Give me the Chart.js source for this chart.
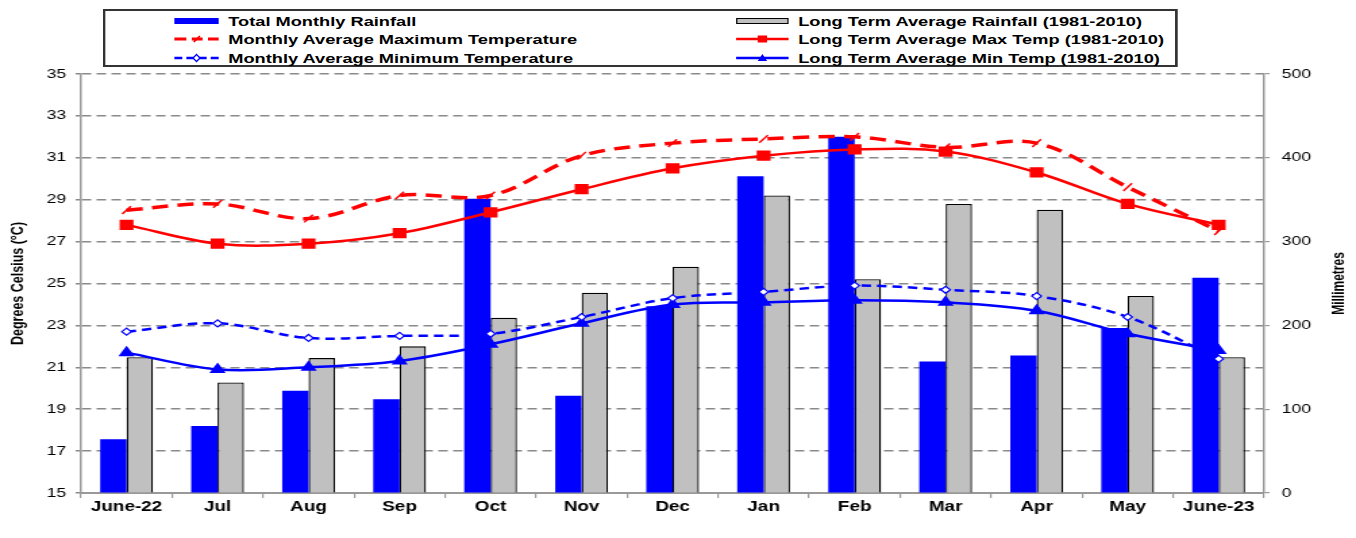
<!DOCTYPE html>
<html>
<head>
<meta charset="utf-8">
<script src="https://cdn.jsdelivr.net/npm/chart.js@4"></script>
<style>
  body { margin: 0; background: #fff; font-family: "Liberation Sans", Arial, sans-serif; overflow: hidden; }
  /* the original picture is stretched sideways, so the whole chart is drawn narrow and widened */
  #wrap { position: relative; width: 1004px; height: 538px; transform: scaleX(1.3506); transform-origin: 0 0; }
  #climateChart { width: 1004px; height: 538px; display: block; }
  #legend { position: absolute; left: 76px; top: 9px; width: 796px; height: 58px;
            border: 2px solid #333; box-sizing: border-box; background: #fff; }
  .item { position: absolute; height: 16px; display: flex; align-items: center;
          font-weight: bold; font-size: 13.5px; color: #000; white-space: nowrap; }
  .item svg { margin-right: 7px; }
</style>
</head>
<body>
<div id="wrap">
  <canvas id="climateChart" width="1004" height="538" style="width:1004px;height:538px"></canvas>
  <div id="legend">
    <div class="item" style="left:51px;top:2px">
      <svg width="33" height="10"><rect x="0" y="2" width="33" height="6" fill="#0000ff"/></svg>Total Monthly Rainfall</div>
    <div class="item" style="left:51px;top:20px">
      <svg width="33" height="10"><path d="M0 5 H9 M13 5 H21 M25 5 H33" stroke="#ff0000" stroke-width="3"/><path d="M14.5 8 L19 2" stroke="#ff0000" stroke-width="1.3"/></svg>Monthly Average Maximum Temperature</div>
    <div class="item" style="left:51px;top:39px">
      <svg width="33" height="10"><path d="M0 5 H6 M9 5 H24 M27 5 H33" stroke="#0000ff" stroke-width="2.5"/><path d="M14 5 L16.5 1.5 L19 5 L16.5 8.5 Z" fill="#fff" stroke="#0000ff" stroke-width="1.2"/></svg>Monthly Average Minimum Temperature</div>
    <div class="item" style="left:467px;top:2px">
      <svg width="39" height="10"><rect x="0.5" y="2.5" width="38" height="5" fill="#c0c0c0" stroke="#000" stroke-width="1"/></svg>Long Term Average Rainfall (1981-2010)</div>
    <div class="item" style="left:467px;top:20px">
      <svg width="39" height="10"><path d="M0 5 H39" stroke="#ff0000" stroke-width="2.5"/><rect x="16" y="1.5" width="7" height="7" fill="#ff0000"/></svg>Long Term Average Max Temp (1981-2010)</div>
    <div class="item" style="left:467px;top:39px">
      <svg width="39" height="10"><path d="M0 5 H39" stroke="#0000ff" stroke-width="2.5"/><path d="M16 8 L19.5 1 L23 8 Z" fill="#0000ff"/></svg>Long Term Average Min Temp (1981-2010)</div>
  </div>
</div>
<script>
const months = ['June-22', 'Jul', 'Aug', 'Sep', 'Oct', 'Nov', 'Dec', 'Jan', 'Feb', 'Mar', 'Apr', 'May', 'June-23'];
const rainTotal = [64, 80, 122, 112, 351, 116, 223, 378, 425, 157, 164, 197, 257];
const rainLTA = [162, 132, 161, 175, 209, 239, 270, 355, 255, 345, 338, 235, 162];
const maxTemp = [28.5, 28.8, 28.1, 29.2, 29.2, 31.1, 31.7, 31.9, 32.0, 31.5, 31.7, 29.6, 27.5];
const maxTempLTA = [27.8, 26.9, 26.9, 27.4, 28.4, 29.5, 30.5, 31.1, 31.4, 31.3, 30.3, 28.8, 27.8];
const minTemp = [22.7, 23.1, 22.4, 22.5, 22.6, 23.4, 24.3, 24.6, 24.9, 24.7, 24.4, 23.4, 21.4];
const minTempLTA = [21.7, 20.9, 21.0, 21.3, 22.1, 23.1, 24.0, 24.1, 24.2, 24.1, 23.7, 22.6, 21.8];

const tickFont = { family: 'Liberation Sans', size: 13 };

// right hand axis title reads bottom-to-top like the left one
const rightTitle = {
  id: 'rightTitle',
  afterDraw(chart) {
    const c = chart.ctx;
    c.save();
    c.translate(992, (chart.chartArea.top + chart.chartArea.bottom) / 2);
    c.rotate(-Math.PI / 2);
    c.font = 'bold 12px "Liberation Sans"';
    c.fillStyle = '#000';
    c.textAlign = 'center';
    c.textBaseline = 'middle';
    c.fillText('Millimetres', 0, 0);
    c.restore();
  }
};

const ctx = document.getElementById('climateChart').getContext('2d');
const climateChart = new Chart(ctx, {
  data: {
    labels: months,
    datasets: [
      { type: 'line', label: 'Monthly Average Maximum Temperature', data: maxTemp, yAxisID: 'y',
        borderColor: '#ff0000', borderWidth: 3.5, borderDash: [12, 7], tension: 0.35,
        pointStyle: 'line', rotation: -50, pointRadius: 5, pointBorderWidth: 1.5,
        pointBorderColor: '#ff0000', order: 1 },
      { type: 'line', label: 'Long Term Average Max Temp (1981-2010)', data: maxTempLTA, yAxisID: 'y',
        borderColor: '#ff0000', borderWidth: 2.5, tension: 0.35,
        pointStyle: 'rect', pointRadius: 5.5, pointBackgroundColor: '#ff0000',
        pointBorderColor: '#ff0000', order: 1 },
      { type: 'line', label: 'Monthly Average Minimum Temperature', data: minTemp, yAxisID: 'y',
        borderColor: '#0000ff', borderWidth: 2.5, borderDash: [7, 4.5], tension: 0.35,
        pointStyle: 'rectRot', pointRadius: 3.5, pointBackgroundColor: '#ffffff',
        pointBorderColor: '#0000ff', pointBorderWidth: 1.2, order: 1 },
      { type: 'line', label: 'Long Term Average Min Temp (1981-2010)', data: minTempLTA, yAxisID: 'y',
        borderColor: '#0000ff', borderWidth: 2.5, tension: 0.35,
        pointStyle: 'triangle', pointRadius: 4.5, pointBackgroundColor: '#0000ff',
        pointBorderColor: '#0000ff', order: 1 },
      { type: 'bar', label: 'Total Monthly Rainfall', data: rainTotal, yAxisID: 'y1',
        backgroundColor: '#0000ff', borderWidth: 0,
        barPercentage: 1.0, categoryPercentage: 0.58, order: 2 },
      { type: 'bar', label: 'Long Term Average Rainfall (1981-2010)', data: rainLTA, yAxisID: 'y1',
        backgroundColor: '#c0c0c0', borderColor: '#000000', borderWidth: 1.3,
        barPercentage: 1.0, categoryPercentage: 0.58, order: 2 }
    ]
  },
  options: {
    responsive: false,
    animation: false,
    devicePixelRatio: 1,
    layout: { padding: { top: 74, bottom: 0, left: 0, right: 0 } },
    plugins: { legend: { display: false }, tooltip: { enabled: false } },
    scales: {
      x: {
        offset: true,
        grid: { offset: true, drawOnChartArea: false, drawTicks: true, tickLength: 5, color: '#999', lineWidth: 1.2 },
        border: { color: '#999', width: 2 },
        ticks: { color: '#000', font: { family: 'Liberation Sans', size: 14, weight: 'bold' }, padding: 1, maxRotation: 0 },
        afterFit(scale) { scale.height = 45; }
      },
      y: {
        position: 'left',
        min: 15, max: 35,
        ticks: { stepSize: 2, color: '#000', font: tickFont, padding: 7 },
        grid: { color: '#8a8a8a', lineWidth: 1.5, tickLength: 4, tickBorderDash: [5, 3] },
        border: { color: '#999', width: 1.5, dash: [7, 4] },
        title: { display: true, text: 'Degrees Celsius (°C)', color: '#000',
                 font: { family: 'Liberation Sans', size: 12.5, weight: 'bold' }, padding: { top: 6, bottom: 0 } },
        afterFit(scale) { scale.width = 60; }
      },
      y1: {
        position: 'right',
        min: 0, max: 500,
        ticks: { stepSize: 100, color: '#000', font: tickFont, padding: 9 },
        grid: { drawOnChartArea: false, color: '#999', lineWidth: 1.2, tickLength: 4 },
        border: { color: '#999', width: 1.5 },
        afterFit(scale) { scale.width = 68; }
      }
    }
  },
  plugins: [rightTitle]
});
</script>
</body>
</html>
